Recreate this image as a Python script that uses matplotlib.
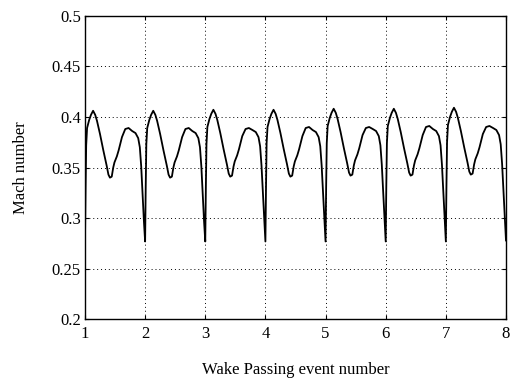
import numpy as np
import matplotlib.pyplot as plt

plt.rcParams["font.family"] = ["Liberation Serif", "DejaVu Serif"]

# Phase within one wake-passing period (0 = wake arrival)
PHASE = [0.000, 0.010, 0.020, 0.035, 0.070, 0.100, 0.135, 0.170, 0.200, 0.250,
         0.305, 0.360, 0.390, 0.415, 0.445, 0.470, 0.490, 0.530, 0.560, 0.615,
         0.670, 0.725, 0.785, 0.840, 0.885, 0.912, 0.935, 0.958, 0.980]

# Start of each wake-passing event
EVENTS = [1, 2, 3, 4, 5, 6, 7]

# Mach number over each event, sampled at PHASE
MACH = [
    [0.278, 0.330, 0.372, 0.389, 0.397, 0.402, 0.406, 0.402, 0.396, 0.383,
     0.367, 0.352, 0.343, 0.340, 0.341, 0.350, 0.355, 0.361, 0.367, 0.380,
     0.388, 0.389, 0.386, 0.384, 0.379, 0.370, 0.351, 0.324, 0.297],
    [0.277, 0.331, 0.373, 0.389, 0.397, 0.402, 0.406, 0.402, 0.396, 0.383,
     0.367, 0.352, 0.343, 0.340, 0.341, 0.350, 0.355, 0.361, 0.367, 0.380,
     0.388, 0.389, 0.386, 0.384, 0.379, 0.370, 0.351, 0.324, 0.297],
    [0.277, 0.331, 0.373, 0.390, 0.398, 0.403, 0.407, 0.403, 0.397, 0.384,
     0.368, 0.353, 0.344, 0.341, 0.342, 0.351, 0.356, 0.362, 0.368, 0.381,
     0.388, 0.389, 0.387, 0.385, 0.380, 0.371, 0.352, 0.325, 0.298],
    [0.277, 0.331, 0.374, 0.390, 0.398, 0.403, 0.407, 0.403, 0.397, 0.384,
     0.368, 0.353, 0.344, 0.341, 0.342, 0.351, 0.356, 0.362, 0.368, 0.381,
     0.389, 0.390, 0.387, 0.385, 0.380, 0.371, 0.352, 0.325, 0.298],
    [0.277, 0.332, 0.374, 0.391, 0.399, 0.404, 0.408, 0.404, 0.398, 0.385,
     0.369, 0.354, 0.345, 0.342, 0.343, 0.352, 0.357, 0.363, 0.369, 0.382,
     0.389, 0.390, 0.388, 0.386, 0.381, 0.372, 0.353, 0.326, 0.299],
    [0.277, 0.332, 0.374, 0.391, 0.399, 0.404, 0.408, 0.404, 0.398, 0.385,
     0.369, 0.354, 0.345, 0.342, 0.343, 0.352, 0.357, 0.363, 0.369, 0.382,
     0.390, 0.391, 0.388, 0.386, 0.381, 0.372, 0.353, 0.326, 0.299],
    [0.277, 0.332, 0.375, 0.392, 0.400, 0.405, 0.409, 0.405, 0.399, 0.386,
     0.370, 0.355, 0.346, 0.343, 0.344, 0.353, 0.358, 0.364, 0.370, 0.383,
     0.390, 0.391, 0.389, 0.387, 0.382, 0.373, 0.354, 0.327, 0.300],
]
END_X, END_MACH = 8, 0.278

X_TICKS = [1, 2, 3, 4, 5, 6, 7, 8]
Y_TICKS = [0.2, 0.25, 0.3, 0.35, 0.4, 0.45, 0.5]
Y_LABELS = ["0.2", "0.25", "0.3", "0.35", "0.4", "0.45", "0.5"]

# ── Series ──────────────────────────────────────────────────────────────────
x = np.concatenate([np.add(ev, PHASE) for ev in EVENTS] + [[END_X]])
y = np.concatenate([np.asarray(row) for row in MACH] + [[END_MACH]])

# ── Figure ──────────────────────────────────────────────────────────────────
fig = plt.figure(figsize=(5.15, 3.79), dpi=100)
fig.patch.set_facecolor("white")
ax = fig.add_axes([0.165, 0.157, 0.8175, 0.802])

ax.plot(x, y, color="black", linewidth=1.3)

ax.set_xlim(1, 8)
ax.set_ylim(0.2, 0.5)
ax.set_xticks(X_TICKS)
ax.set_yticks(Y_TICKS)
ax.set_yticklabels(Y_LABELS)
ax.tick_params(direction="in", length=3, width=0.8, labelsize=12,
               top=True, right=True)
ax.tick_params(axis="x", pad=5)
ax.tick_params(axis="y", pad=3)

ax.grid(True, linestyle=(0, (1, 3)), color="black", linewidth=0.7)
for spine in ax.spines.values():
    spine.set_linewidth(1.0)

ax.set_xlabel("Wake Passing event number", fontsize=12, labelpad=14)
ax.set_ylabel("Mach number", fontsize=12, labelpad=16)

plt.savefig("out.png", dpi=100, facecolor="white")
plt.close()
